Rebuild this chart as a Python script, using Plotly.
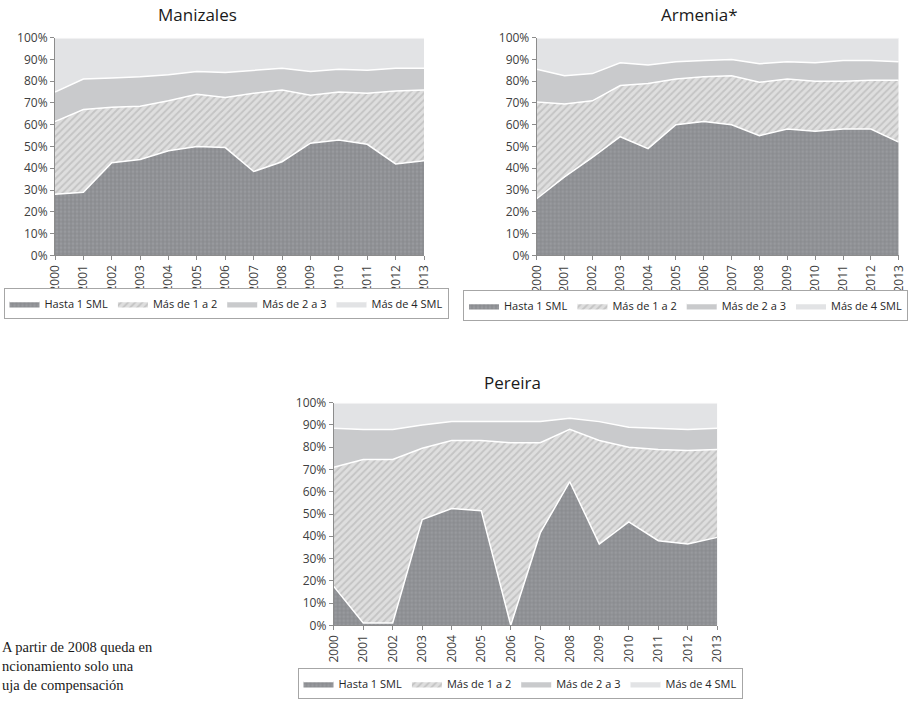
import plotly.graph_objects as go

W, H = 909, 708

years = list(range(2000, 2014))
series_names = ["Hasta 1 SML", "Más de 1 a 2", "Más de 2 a 3", "Más de 4 SML"]

# Shares (%) per city and wage band
manizales_h1 = [28, 29, 42.5, 44, 48, 50, 49.5, 38.5, 43, 51.5, 53, 51, 42, 43.5]
manizales_1a2 = [33.5, 38, 25.5, 24.5, 23, 24, 23, 36, 33, 22, 22, 23.5, 33.5, 32.5]
manizales_2a3 = [13.5, 14, 13.5, 13.5, 12, 10.5, 11.5, 10.5, 10, 11, 10.5, 10.5, 10.5, 10]
manizales_4 = [25, 19, 18.5, 18, 17, 15.5, 16, 15, 14, 15.5, 14.5, 15, 14, 14]

armenia_h1 = [26, 36, 45, 54.5, 49, 60, 61.5, 60, 55, 58, 57, 58, 58, 52]
armenia_1a2 = [44.5, 33.5, 26, 23.5, 30, 21, 20.5, 22.5, 24.5, 23, 23, 22, 22.5, 28.5]
armenia_2a3 = [15, 13, 12.5, 10.5, 8.5, 8, 7.5, 7.5, 8.5, 8, 8.5, 9.5, 9, 8.5]
armenia_4 = [14.5, 17.5, 16.5, 11.5, 12.5, 11, 10.5, 10, 12, 11, 11.5, 10.5, 10.5, 11]

pereira_h1 = [17.5, 1, 1, 47.5, 52.5, 51.5, 0, 41.5, 64.5, 36.5, 46.5, 38, 36.5, 39.5]
pereira_1a2 = [53.5, 73.5, 73.5, 32, 30.5, 31.5, 82, 40.5, 23.5, 46.5, 33.5, 41, 42, 39.5]
pereira_2a3 = [17.5, 13.5, 13.5, 10.5, 8.5, 8.5, 9.5, 9.5, 5, 8.5, 9, 9.5, 9.5, 9.5]
pereira_4 = [11.5, 12, 12, 10, 8.5, 8.5, 8.5, 8.5, 7, 8.5, 11, 11.5, 12, 11.5]

titles = ["Manizales", "Armenia*", "Pereira"]
footnote = ["A partir de 2008 queda en", "ncionamiento solo una", "uja de compensación"]

FONT = "Open Sans"

styles = [
    dict(fillcolor="#8b8d90",
         fillpattern=dict(shape=".", bgcolor="#8b8d90", fgcolor="#a6a8ab", size=4, solidity=0.4)),
    dict(fillcolor="#dcdcdc",
         fillpattern=dict(shape="/", bgcolor="#dedede", fgcolor="#a9a9a9", size=5, solidity=0.35)),
    dict(fillcolor="#c9cacc"),
    dict(fillcolor="#e2e3e5"),
]

cities = [
    (titles[0], [manizales_h1, manizales_1a2, manizales_2a3, manizales_4], "x", "y", "legend"),
    (titles[1], [armenia_h1, armenia_1a2, armenia_2a3, armenia_4], "x2", "y2", "legend2"),
    (titles[2], [pereira_h1, pereira_1a2, pereira_2a3, pereira_4], "x3", "y3", "legend3"),
]

fig = go.Figure()
for city, vals, xa, ya, lg in cities:
    for name, v, st in zip(series_names, vals, styles):
        fig.add_trace(go.Scatter(
            x=years, y=v, name=name, mode="lines",
            stackgroup=city, line=dict(color="white", width=1.5),
            xaxis=xa, yaxis=ya, legend=lg, hoverinfo="skip", **st))

def px_x(a, b):
    return [a / W, b / W]

def px_y(top, bottom):
    return [1 - bottom / H, 1 - top / H]

axis_common = dict(showgrid=False, zeroline=False, showline=True, linecolor="#8c8c8c",
                   linewidth=1, ticks="outside", ticklen=4, tickcolor="#8c8c8c",
                   automargin=False,
                   tickfont=dict(family=FONT, size=12, color="#404040"))

domains = [
    (px_x(55, 424), px_y(37.7, 255.3)),
    (px_x(536.7, 898.7), px_y(37.7, 255.3)),
    (px_x(333.7, 717.3), px_y(402.7, 625.3)),
]
for i, (dx, dy) in enumerate(domains):
    sfx = "" if i == 0 else str(i + 1)
    fig.layout["xaxis" + sfx] = dict(domain=dx, anchor="y" + sfx, range=[2000, 2013],
                                     tickmode="array", tickvals=years, ticktext=[str(y) for y in years],
                                     tickangle=-90, **axis_common)
    fig.layout["yaxis" + sfx] = dict(domain=dy, anchor="x" + sfx, range=[0, 100], dtick=10,
                                     ticksuffix="%", **axis_common)

legend_common = dict(orientation="h", bordercolor="#a6a6a6", borderwidth=1, bgcolor="white",
                     font=dict(family=FONT, size=11, color="#262626"), itemwidth=30,
                     yanchor="top", traceorder="normal", itemclick=False)
fig.update_layout(
    legend=dict(x=226 / W, y=1 - 288 / H, xanchor="center", **legend_common),
    legend2=dict(x=908 / W, y=1 - 290 / H, xanchor="right", **legend_common),
    legend3=dict(x=520 / W, y=1 - 668 / H, xanchor="center", **legend_common),
)

ann = []
for t, (cx, cy) in zip(titles, [(197, 15), (699, 15), (512, 382)]):
    ann.append(dict(text=t, x=cx / W, y=1 - cy / H, xref="paper", yref="paper",
                    xanchor="center", yanchor="middle", showarrow=False,
                    font=dict(family=FONT, size=17, color="#1a1a1a")))
ann.append(dict(text="<br>".join(footnote), x=0, y=1 - 666 / H, xref="paper", yref="paper",
                xanchor="left", yanchor="middle", align="left", showarrow=False,
                font=dict(family="Liberation Serif", size=14.5, color="#1a1a1a")))

fig.update_layout(width=W, height=H, autosize=False, margin=dict(l=0, r=0, t=0, b=0),
                  paper_bgcolor="white", plot_bgcolor="white", annotations=ann,
                  showlegend=True)

fig.write_html("out.html", config={"displayModeBar": False},
               post_script="document.body.style.margin='0px';document.body.style.overflow='hidden';")
